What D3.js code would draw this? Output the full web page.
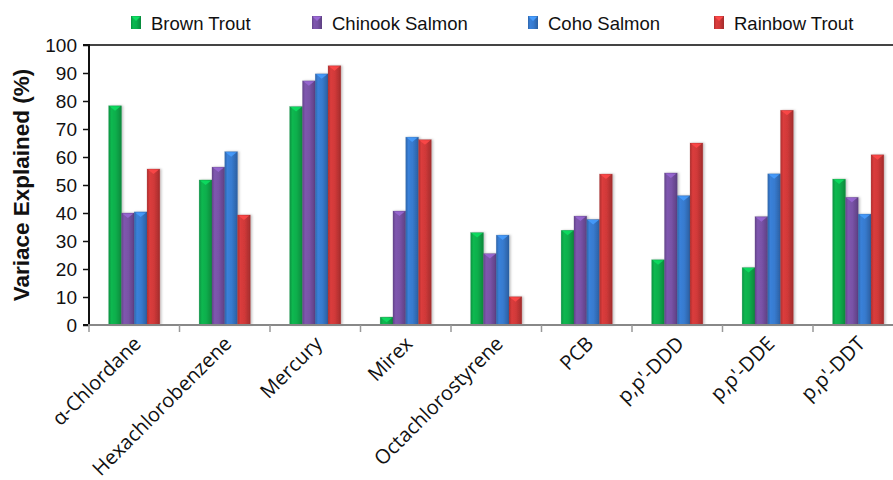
<!DOCTYPE html>
<html>
<head>
<meta charset="utf-8">
<script src="https://cdn.jsdelivr.net/npm/d3@7"></script>
<style>
  html, body { margin: 0; padding: 0; background: #fff; }
  svg { display: block; }
</style>
</head>
<body>
<svg id="chart" width="893" height="480"></svg>
<script>
// Contaminants on the x axis
const categories = ["α-Chlordane", "Hexachlorobenzene", "Mercury", "Mirex", "Octachlorostyrene", "PCB", "p,p'-DDD", "p,p'-DDE", "p,p'-DDT"];
// Variance explained (%) per species
const brownTrout    = [78.3, 51.8, 78.0, 2.8, 33.0, 33.8, 23.3, 20.5, 52.1];
const chinookSalmon = [40.0, 56.4, 87.2, 40.7, 25.5, 38.9, 54.3, 38.7, 45.6];
const cohoSalmon    = [40.4, 61.9, 89.7, 67.1, 32.1, 37.7, 46.2, 54.0, 39.6];
const rainbowTrout  = [55.7, 39.3, 92.6, 66.2, 10.1, 53.9, 65.0, 76.7, 60.8];
const seriesNames   = ["Brown Trout", "Chinook Salmon", "Coho Salmon", "Rainbow Trout"];
const seriesColors  = ["#0aae4c", "#7852a6", "#377ace", "#d03939"];
const yTicks        = [0, 10, 20, 30, 40, 50, 60, 70, 80, 90, 100];

const seriesValues = [brownTrout, chinookSalmon, cohoSalmon, rainbowTrout];

const svg = d3.select("#chart");
const W = 893;
const plot = { left: 89, right: 903.5, top: 45, bottom: 325 };

const x0 = d3.scaleBand()
  .domain(categories)
  .range([plot.left, plot.right])
  .paddingInner(0.435)
  .paddingOuter(0.2175);
const x1 = d3.scaleBand()
  .domain(seriesNames)
  .range([0, x0.bandwidth()]);
const y = d3.scaleLinear().domain([0, 100]).range([plot.bottom, plot.top]);

// Gradients giving the bars a rounded, glossy look
const defs = svg.append("defs");
seriesColors.forEach((c, i) => {
  const base = d3.color(c);
  const g = defs.append("linearGradient")
    .attr("id", "grad" + i)
    .attr("x1", "0%").attr("x2", "100%").attr("y1", "0%").attr("y2", "0%");
  g.append("stop").attr("offset", "0%").attr("stop-color", base.darker(0.5));
  g.append("stop").attr("offset", "22%").attr("stop-color", base.brighter(0.15));
  g.append("stop").attr("offset", "55%").attr("stop-color", base);
  g.append("stop").attr("offset", "100%").attr("stop-color", base.darker(0.7));
});
const shadow = defs.append("filter").attr("id", "shadow")
  .attr("x", "-30%").attr("y", "-10%").attr("width", "180%").attr("height", "120%");
shadow.append("feDropShadow").attr("dx", 1.5).attr("dy", 0).attr("stdDeviation", 1.2)
  .attr("flood-color", "#000").attr("flood-opacity", 0.25);

// Frame: top border line
svg.append("line")
  .attr("x1", plot.left).attr("x2", W)
  .attr("y1", plot.top).attr("y2", plot.top)
  .attr("stroke", "#444").attr("stroke-width", 2);

// Bars
const groups = svg.append("g").selectAll("g")
  .data(categories)
  .join("g")
  .attr("transform", d => `translate(${x0(d)},0)`);

groups.each(function(cat, ci) {
  const g = d3.select(this);
  seriesNames.forEach((s, si) => {
    const v = seriesValues[si][ci];
    const bx = x1(s), bw = x1.bandwidth();
    const top = y(v), h = y(0) - y(v);
    g.append("rect")
      .attr("x", bx).attr("y", top)
      .attr("width", bw).attr("height", h)
      .attr("fill", `url(#grad${si})`)
      .attr("stroke", d3.color(seriesColors[si]).darker(0.8))
      .attr("stroke-opacity", 0.35)
      .attr("stroke-width", 0.6)
      .attr("filter", "url(#shadow)");
    // bevelled cap
    const capH = Math.min(5, h);
    g.append("path")
      .attr("d", `M${bx + 0.8},${top + 0.5} L${bx + bw - 0.8},${top + 0.5} L${bx + bw / 2},${top + capH} Z`)
      .attr("fill", d3.color(seriesColors[si]).brighter(0.7))
      .attr("opacity", 0.85);
  });
});

// Y axis
const yAxis = d3.axisLeft(y).tickValues(yTicks).tickSize(6).tickFormat(d3.format("d"));
const yg = svg.append("g")
  .attr("transform", `translate(${plot.left},0)`)
  .call(yAxis);
yg.select(".domain").attr("stroke", "#111").attr("stroke-width", 2)
  .attr("d", `M-6,${plot.top}H0V${plot.bottom}H-6`);
yg.selectAll(".tick line").attr("stroke", "#111").attr("stroke-width", 1.5);
yg.selectAll(".tick text")
  .attr("x", -12)
  .attr("dy", "0.35em")
  .style("font-family", "'Liberation Sans', Arial, sans-serif")
  .style("font-size", "19px")
  .attr("fill", "#111");

// X axis baseline with ticks at category boundaries
const step = x0.step();
const boundaries = categories.map(c => x0(c) - step * x0.paddingInner() / 2);
const xg = svg.append("g");
xg.append("line")
  .attr("x1", plot.left - 1).attr("x2", W)
  .attr("y1", plot.bottom).attr("y2", plot.bottom)
  .attr("stroke", "#888").attr("stroke-width", 2);
xg.selectAll("line.tick")
  .data(boundaries)
  .join("line")
  .attr("class", "tick")
  .attr("x1", d => d).attr("x2", d => d)
  .attr("y1", plot.bottom).attr("y2", plot.bottom + 7)
  .attr("stroke", "#999").attr("stroke-width", 1.5);

// Category labels, rotated
xg.selectAll("text")
  .data(categories)
  .join("text")
  .attr("transform", d => `translate(${x0(d) + x0.bandwidth() / 2 + 8},${plot.bottom + 20}) rotate(-45)`)
  .attr("text-anchor", "end")
  .style("font-family", "'Open Sans', 'Noto Sans', sans-serif")
  .style("font-size", "20px")
  .attr("fill", "#111")
  .text(d => d);

// Y axis title
svg.append("text")
  .attr("transform", `translate(29,${(plot.top + plot.bottom) / 2}) rotate(-90)`)
  .attr("text-anchor", "middle")
  .style("font-family", "'Liberation Sans', Arial, sans-serif")
  .style("font-size", "22.5px")
  .style("font-weight", "bold")
  .attr("fill", "#111")
  .text("Variace Explained (%)");

// Legend
const legendX = [131, 312, 528, 714];
const legend = svg.append("g").selectAll("g")
  .data(seriesNames)
  .join("g")
  .attr("transform", (d, i) => `translate(${legendX[i]},16)`);
legend.append("rect")
  .attr("width", 10).attr("height", 13)
  .attr("fill", (d, i) => `url(#grad${i})`);
legend.append("path")
  .attr("d", "M0.5,0.5 L9.5,0.5 L5,5 Z")
  .attr("fill", (d, i) => d3.color(seriesColors[i]).brighter(0.7));
legend.append("text")
  .attr("x", 20).attr("y", 14)
  .style("font-family", "'Liberation Sans', Arial, sans-serif")
  .style("font-size", "18.5px")
  .attr("fill", "#111")
  .text(d => d);
</script>
</body>
</html>
